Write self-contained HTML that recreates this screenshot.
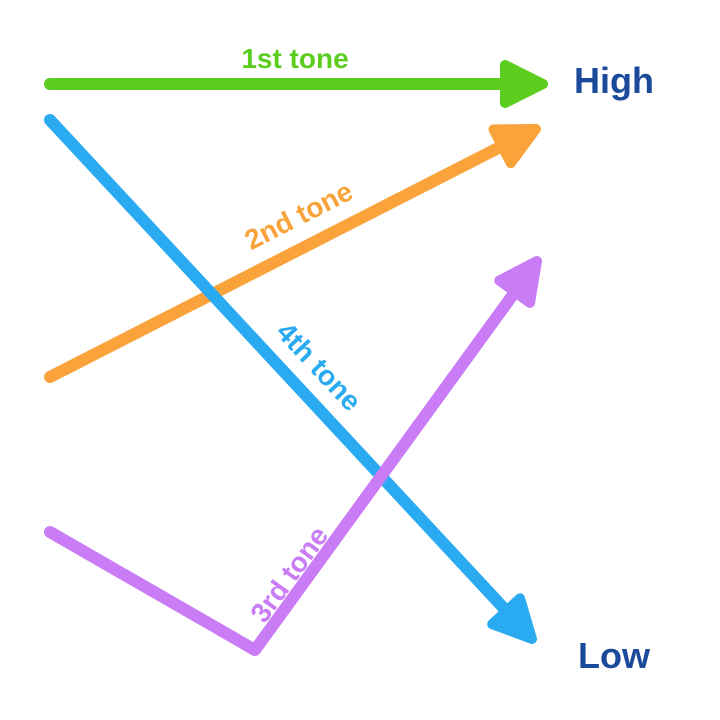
<!DOCTYPE html>
<html><head><meta charset="utf-8"><style>
html,body{margin:0;padding:0;background:#fff;width:720px;height:720px;overflow:hidden}
text{font-family:"Liberation Sans",sans-serif;font-weight:bold}
</style></head><body>
<svg width="720" height="720" viewBox="0 0 720 720" xmlns="http://www.w3.org/2000/svg">
<g fill="none" stroke-width="12" stroke-linecap="round" stroke-linejoin="round">
<line x1="50" y1="84" x2="510" y2="84" stroke="#5ccd1e"/>
<line x1="50" y1="377" x2="508" y2="143" stroke="#f9a33a"/>
<line x1="50" y1="120" x2="512" y2="617" stroke="#2aaaf0"/>
<polyline points="50,532 255,650 520,285" stroke="#c97cf5"/>
</g>
<g stroke-width="10" stroke-linejoin="round">
<polygon transform="translate(543,84) rotate(0)" points="0,0 -38,-19 -38,19" fill="#5ccd1e" stroke="#5ccd1e"/>
<polygon transform="translate(536,129) rotate(-27)" points="0,0 -38,-19 -38,19" fill="#f9a33a" stroke="#f9a33a"/>
<polygon transform="translate(532,639) rotate(47)" points="0,0 -38,-19 -38,19" fill="#2aaaf0" stroke="#2aaaf0"/>
<polygon transform="translate(537,261) rotate(-54)" points="0,0 -38,-19 -38,19" fill="#c97cf5" stroke="#c97cf5"/>
</g>
<text x="295" y="68" font-size="28" fill="#5ccd1e" text-anchor="middle">1st tone</text>
<text transform="translate(303,224) rotate(-27)" font-size="28" fill="#f9a33a" text-anchor="middle">2nd tone</text>
<text transform="translate(312,373) rotate(47)" font-size="28" fill="#2aaaf0" text-anchor="middle">4th tone</text>
<text transform="translate(297,580) rotate(-54)" font-size="28" fill="#c97cf5" text-anchor="middle">3rd tone</text>
<text x="574" y="93" font-size="36" fill="#1b4a9a">High</text>
<text x="578" y="668" font-size="36" fill="#1b4a9a">Low</text>
</svg>
</body></html>
